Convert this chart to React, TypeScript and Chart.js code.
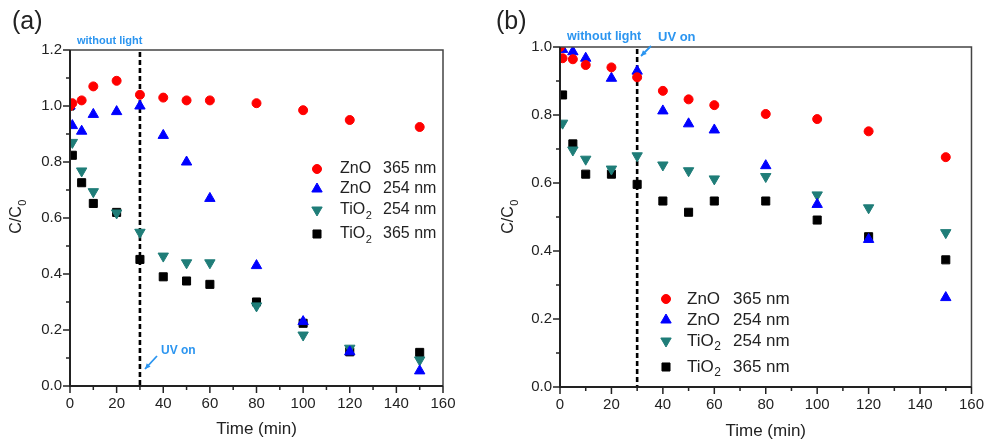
import React, { useEffect, useRef } from 'react';
import { Chart, registerables } from 'chart.js';

Chart.register(...registerables);

// ---------------- DATA ----------------
const TIMES = [0, 1, 5, 10, 20, 30, 40, 50, 60, 80, 100, 120, 150];

// panel (a)
const A_ZNO_365 = [1.0, 1.01, 1.02, 1.07, 1.09, 1.04, 1.03, 1.02, 1.02, 1.01, 0.985, 0.95, 0.925];
const A_ZNO_254 = [1.0, 0.93, 0.91, 0.97, 0.98, 1.0, 0.895, 0.8, 0.67, 0.43, 0.23, 0.122, 0.054];
const A_TIO2_254 = [1.0, 0.87, 0.768, 0.694, 0.618, 0.549, 0.464, 0.44, 0.44, 0.286, 0.182, 0.135, 0.093];
const A_TIO2_365 = [1.0, 0.824, 0.726, 0.652, 0.62, 0.452, 0.39, 0.375, 0.363, 0.3, 0.224, 0.122, 0.12];

// panel (b)
const B_ZNO_365 = [1.0, 0.967, 0.964, 0.947, 0.94, 0.911, 0.871, 0.846, 0.829, 0.803, 0.788, 0.752, 0.676];
const B_ZNO_254 = [1.0, 0.993, 0.986, 0.967, 0.908, 0.929, 0.812, 0.774, 0.756, 0.651, 0.537, 0.434, 0.263];
const B_TIO2_254 = [1.0, 0.776, 0.697, 0.67, 0.641, 0.68, 0.653, 0.636, 0.612, 0.619, 0.565, 0.527, 0.454];
const B_TIO2_365 = [1.0, 0.859, 0.715, 0.626, 0.626, 0.596, 0.547, 0.514, 0.547, 0.547, 0.491, 0.442, 0.374];

const SERIES_NAMES = ['ZnO', 'ZnO', 'TiO', 'TiO'];
const SERIES_SUBS = ['', '', '2', '2'];
const SERIES_WAVES = ['365 nm', '254 nm', '254 nm', '365 nm'];

const X_MIN = 0;
const X_MAX = 160;
const X_STEP = 20;
const A_Y_MAX = 1.2;
const B_Y_MAX = 1.0;
const Y_STEP = 0.2;
const LIGHT_ON_TIME = 30;

const NOTE_DARK = 'without light';
const NOTE_UV = 'UV on';
const X_TITLE = 'Time (min)';
const Y_TITLE_MAIN = 'C/C';
const Y_TITLE_SUB = '0';

// ---------------- STYLE ----------------
const COLORS = ['#ff0000', '#0000ff', '#1f7d78', '#000000'];
const STYLES = ['circle', 'triangle', 'triangle', 'rect'];
const ROTS = [0, 0, 180, 0];
const RADII = [5, 6.5, 6.5, 6.2];
const FONT = "'Liberation Sans', Arial, Helvetica, sans-serif";
const TEXT = '#222222';
const NOTE_COLOR = '#2b95f0';

type PanelCfg = {
  left: number;
  width: number;
  height: number;
  area: { left: number; top: number; right: number; bottom: number };
  yMax: number;
  series: number[][];
  label: string;
  labelX: number;
  legend: { mx: number; nx: number; numx: number; rows: number[]; font: number };
  yTitle: { x: number; y: number };
  xTitleY: number;
  notes: { text: string; x: number; y: number; size: number }[];
  arrow: [number, number, number, number];
};

const PANELS: PanelCfg[] = [
  {
    left: 0,
    width: 490,
    height: 445,
    area: { left: 70, top: 50, right: 443, bottom: 386 },
    yMax: A_Y_MAX,
    series: [A_ZNO_365, A_ZNO_254, A_TIO2_254, A_TIO2_365],
    label: '(a)',
    labelX: 12,
    legend: { mx: 317, nx: 340, numx: 383, rows: [169, 189, 210, 234], font: 16 },
    yTitle: { x: 17, y: 217 },
    xTitleY: 429,
    notes: [
      { text: NOTE_DARK, x: 77, y: 41, size: 11 },
      { text: NOTE_UV, x: 161, y: 351, size: 12 },
    ],
    arrow: [157, 356, 145, 369],
  },
  {
    left: 490,
    width: 503,
    height: 445,
    area: { left: 560, top: 47, right: 972, bottom: 387 },
    yMax: B_Y_MAX,
    series: [B_ZNO_365, B_ZNO_254, B_TIO2_254, B_TIO2_365],
    label: '(b)',
    labelX: 496,
    legend: { mx: 666, nx: 687, numx: 733, rows: [299, 320, 341, 367], font: 17 },
    yTitle: { x: 509, y: 217 },
    xTitleY: 431,
    notes: [
      { text: NOTE_DARK, x: 567, y: 37, size: 12.5 },
      { text: NOTE_UV, x: 658, y: 37, size: 13 },
    ],
    arrow: [651, 46, 641, 56],
  },
];

function drawMarker(ctx: CanvasRenderingContext2D, style: string, rot: number, x: number, y: number, r: number, color: string) {
  ctx.save();
  ctx.fillStyle = color;
  ctx.strokeStyle = color;
  ctx.lineWidth = 1;
  ctx.beginPath();
  if (style === 'circle') {
    ctx.arc(x, y, r, 0, Math.PI * 2);
  } else if (style === 'triangle') {
    let a = (rot * Math.PI) / 180;
    ctx.moveTo(x + Math.sin(a) * r, y - Math.cos(a) * r);
    a += (2 * Math.PI) / 3;
    ctx.lineTo(x + Math.sin(a) * r, y - Math.cos(a) * r);
    a += (2 * Math.PI) / 3;
    ctx.lineTo(x + Math.sin(a) * r, y - Math.cos(a) * r);
    ctx.closePath();
  } else {
    const s = r * Math.SQRT1_2;
    ctx.rect(x - s, y - s, 2 * s, 2 * s);
  }
  ctx.fill();
  ctx.stroke();
  ctx.restore();
}

function drawSubText(ctx: CanvasRenderingContext2D, main: string, sub: string, x: number, y: number, size: number) {
  ctx.font = `${size}px ${FONT}`;
  ctx.fillText(main, x, y);
  if (sub) {
    const w = ctx.measureText(main).width;
    ctx.font = `${Math.round(size * 0.7)}px ${FONT}`;
    ctx.fillText(sub, x + w + 0.5, y + size * 0.35);
  }
}

function makePlugin(cfg: PanelCfg) {
  const ox = cfg.left;
  return {
    id: 'decor' + cfg.label,
    beforeDatasetsDraw(chart: any) {
      const ctx: CanvasRenderingContext2D = chart.ctx;
      const { top, bottom } = chart.chartArea;
      const x = chart.scales.x.getPixelForValue(LIGHT_ON_TIME);
      ctx.save();
      ctx.strokeStyle = '#000';
      ctx.lineWidth = 2.6;
      ctx.setLineDash([5, 3]);
      ctx.beginPath();
      ctx.moveTo(x, top + 2);
      ctx.lineTo(x, bottom);
      ctx.stroke();
      ctx.restore();
    },
    afterDraw(chart: any) {
      const ctx: CanvasRenderingContext2D = chart.ctx;
      const { left, top, right, bottom } = chart.chartArea;
      const xs = chart.scales.x;
      const ys = chart.scales.y;
      ctx.save();
      // frame
      ctx.strokeStyle = '#444';
      ctx.lineWidth = 1.5;
      ctx.beginPath();
      ctx.moveTo(left, top);
      ctx.lineTo(right, top);
      ctx.lineTo(right, bottom);
      ctx.stroke();
      ctx.strokeStyle = '#222';
      ctx.lineWidth = 2;
      ctx.beginPath();
      ctx.moveTo(left, top);
      ctx.lineTo(left, bottom);
      ctx.lineTo(right, bottom);
      ctx.stroke();
      // ticks
      ctx.lineWidth = 1.5;
      const ny = Math.round(cfg.yMax / (Y_STEP / 2));
      for (let i = 0; i <= ny; i++) {
        const v = (i * Y_STEP) / 2;
        const py = ys.getPixelForValue(v);
        const len = i % 2 === 0 ? 7 : 4;
        ctx.beginPath();
        ctx.moveTo(left - len, py);
        ctx.lineTo(left, py);
        ctx.stroke();
      }
      const nx = Math.round((X_MAX - X_MIN) / (X_STEP / 2));
      for (let i = 0; i <= nx; i++) {
        const v = X_MIN + (i * X_STEP) / 2;
        const px = xs.getPixelForValue(v);
        const len = i % 2 === 0 ? 7 : 4;
        ctx.beginPath();
        ctx.moveTo(px, bottom);
        ctx.lineTo(px, bottom + len);
        ctx.stroke();
      }
      // panel label
      ctx.fillStyle = TEXT;
      ctx.textBaseline = 'alphabetic';
      ctx.textAlign = 'left';
      ctx.font = `25px ${FONT}`;
      ctx.fillText(cfg.label, cfg.labelX - ox, 29);
      // x title
      ctx.textAlign = 'center';
      ctx.textBaseline = 'middle';
      ctx.font = `17px ${FONT}`;
      ctx.fillText(X_TITLE, (left + right) / 2, cfg.xTitleY);
      // y title
      ctx.save();
      ctx.translate(cfg.yTitle.x - ox, cfg.yTitle.y);
      ctx.rotate(-Math.PI / 2);
      ctx.font = `16px ${FONT}`;
      const wMain = ctx.measureText(Y_TITLE_MAIN).width;
      ctx.font = `11px ${FONT}`;
      const wSub = ctx.measureText(Y_TITLE_SUB).width;
      ctx.textAlign = 'left';
      drawSubText(ctx, Y_TITLE_MAIN, Y_TITLE_SUB, -(wMain + wSub) / 2, 0, 16);
      ctx.restore();
      // legend
      const lg = cfg.legend;
      ctx.textAlign = 'left';
      ctx.textBaseline = 'middle';
      for (let i = 0; i < 4; i++) {
        const y = lg.rows[i];
        drawMarker(ctx, STYLES[i], ROTS[i], lg.mx - ox, y, RADII[i] - 0.5, COLORS[i]);
        ctx.fillStyle = TEXT;
        drawSubText(ctx, SERIES_NAMES[i], SERIES_SUBS[i], lg.nx - ox, y, lg.font);
        ctx.font = `${lg.font}px ${FONT}`;
        ctx.fillText(SERIES_WAVES[i], lg.numx - ox, y);
      }
      // notes
      ctx.fillStyle = NOTE_COLOR;
      ctx.textBaseline = 'middle';
      for (const n of cfg.notes) {
        ctx.font = `bold ${n.size}px ${FONT}`;
        ctx.fillText(n.text, n.x - ox, n.y);
      }
      // arrow
      const [x1, y1, x2, y2] = cfg.arrow;
      ctx.strokeStyle = NOTE_COLOR;
      ctx.lineWidth = 1.8;
      ctx.beginPath();
      ctx.moveTo(x1 - ox, y1);
      ctx.lineTo(x2 - ox, y2);
      ctx.stroke();
      const ang = Math.atan2(y2 - y1, x2 - x1);
      const ah = 6;
      ctx.beginPath();
      ctx.moveTo(x2 - ox, y2);
      ctx.lineTo(x2 - ox - ah * Math.cos(ang - 0.45), y2 - ah * Math.sin(ang - 0.45));
      ctx.lineTo(x2 - ox - ah * Math.cos(ang + 0.45), y2 - ah * Math.sin(ang + 0.45));
      ctx.closePath();
      ctx.fillStyle = NOTE_COLOR;
      ctx.fill();
      ctx.restore();
    },
  };
}

function Panel({ cfg }: { cfg: PanelCfg }) {
  const ref = useRef<HTMLCanvasElement | null>(null);
  useEffect(() => {
    if (!ref.current) return;
    const datasets = cfg.series.map((vals, i) => ({
      label: SERIES_NAMES[i] + SERIES_SUBS[i] + ' ' + SERIES_WAVES[i],
      data: TIMES.map((t, j) => ({ x: t, y: vals[j] })),
      showLine: false,
      pointStyle: STYLES[i] as any,
      rotation: ROTS[i],
      pointRadius: RADII[i] - 0.5,
      pointBackgroundColor: COLORS[i],
      pointBorderColor: COLORS[i],
      pointBorderWidth: 1,
      backgroundColor: COLORS[i],
      borderColor: COLORS[i],
    }));
    const yWidth = cfg.area.left - cfg.left;
    const xHeight = cfg.height - cfg.area.bottom;
    const chart = new Chart(ref.current, {
      type: 'scatter',
      data: { datasets },
      options: {
        responsive: false,
        animation: false,
        devicePixelRatio: 1,
        layout: {
          autoPadding: false,
          padding: {
            left: 0,
            top: cfg.area.top,
            right: cfg.left + cfg.width - cfg.area.right,
            bottom: 0,
          },
        },
        plugins: { legend: { display: false }, tooltip: { enabled: false }, title: { display: false } },
        scales: {
          x: {
            type: 'linear',
            min: X_MIN,
            max: X_MAX,
            grid: { display: false, drawTicks: false },
            border: { display: false },
            ticks: {
              stepSize: X_STEP,
              padding: 9,
              color: TEXT,
              font: { family: FONT, size: 15 },
              maxRotation: 0,
              autoSkip: false,
            },
            afterFit: (s: any) => {
              s.height = xHeight;
            },
          },
          y: {
            type: 'linear',
            min: 0,
            max: cfg.yMax,
            grid: { display: false, drawTicks: false },
            border: { display: false },
            ticks: {
              stepSize: Y_STEP,
              padding: 8,
              color: TEXT,
              font: { family: FONT, size: 15 },
              callback: (v: any) => Number(v).toFixed(1),
            },
            afterFit: (s: any) => {
              s.width = yWidth;
            },
          },
        },
      },
      plugins: [makePlugin(cfg)],
    } as any);
    return () => chart.destroy();
  }, [cfg]);
  return (
    <canvas
      ref={ref}
      width={cfg.width}
      height={cfg.height}
      style={{ position: 'absolute', left: cfg.left, top: 0, width: cfg.width, height: cfg.height, display: 'block' }}
    />
  );
}

export default function App() {
  return (
    <div style={{ position: 'absolute', left: 0, top: 0, width: 993, height: 445, background: '#ffffff', overflow: 'hidden' }}>
      {PANELS.map((p) => (
        <Panel key={p.label} cfg={p} />
      ))}
    </div>
  );
}
